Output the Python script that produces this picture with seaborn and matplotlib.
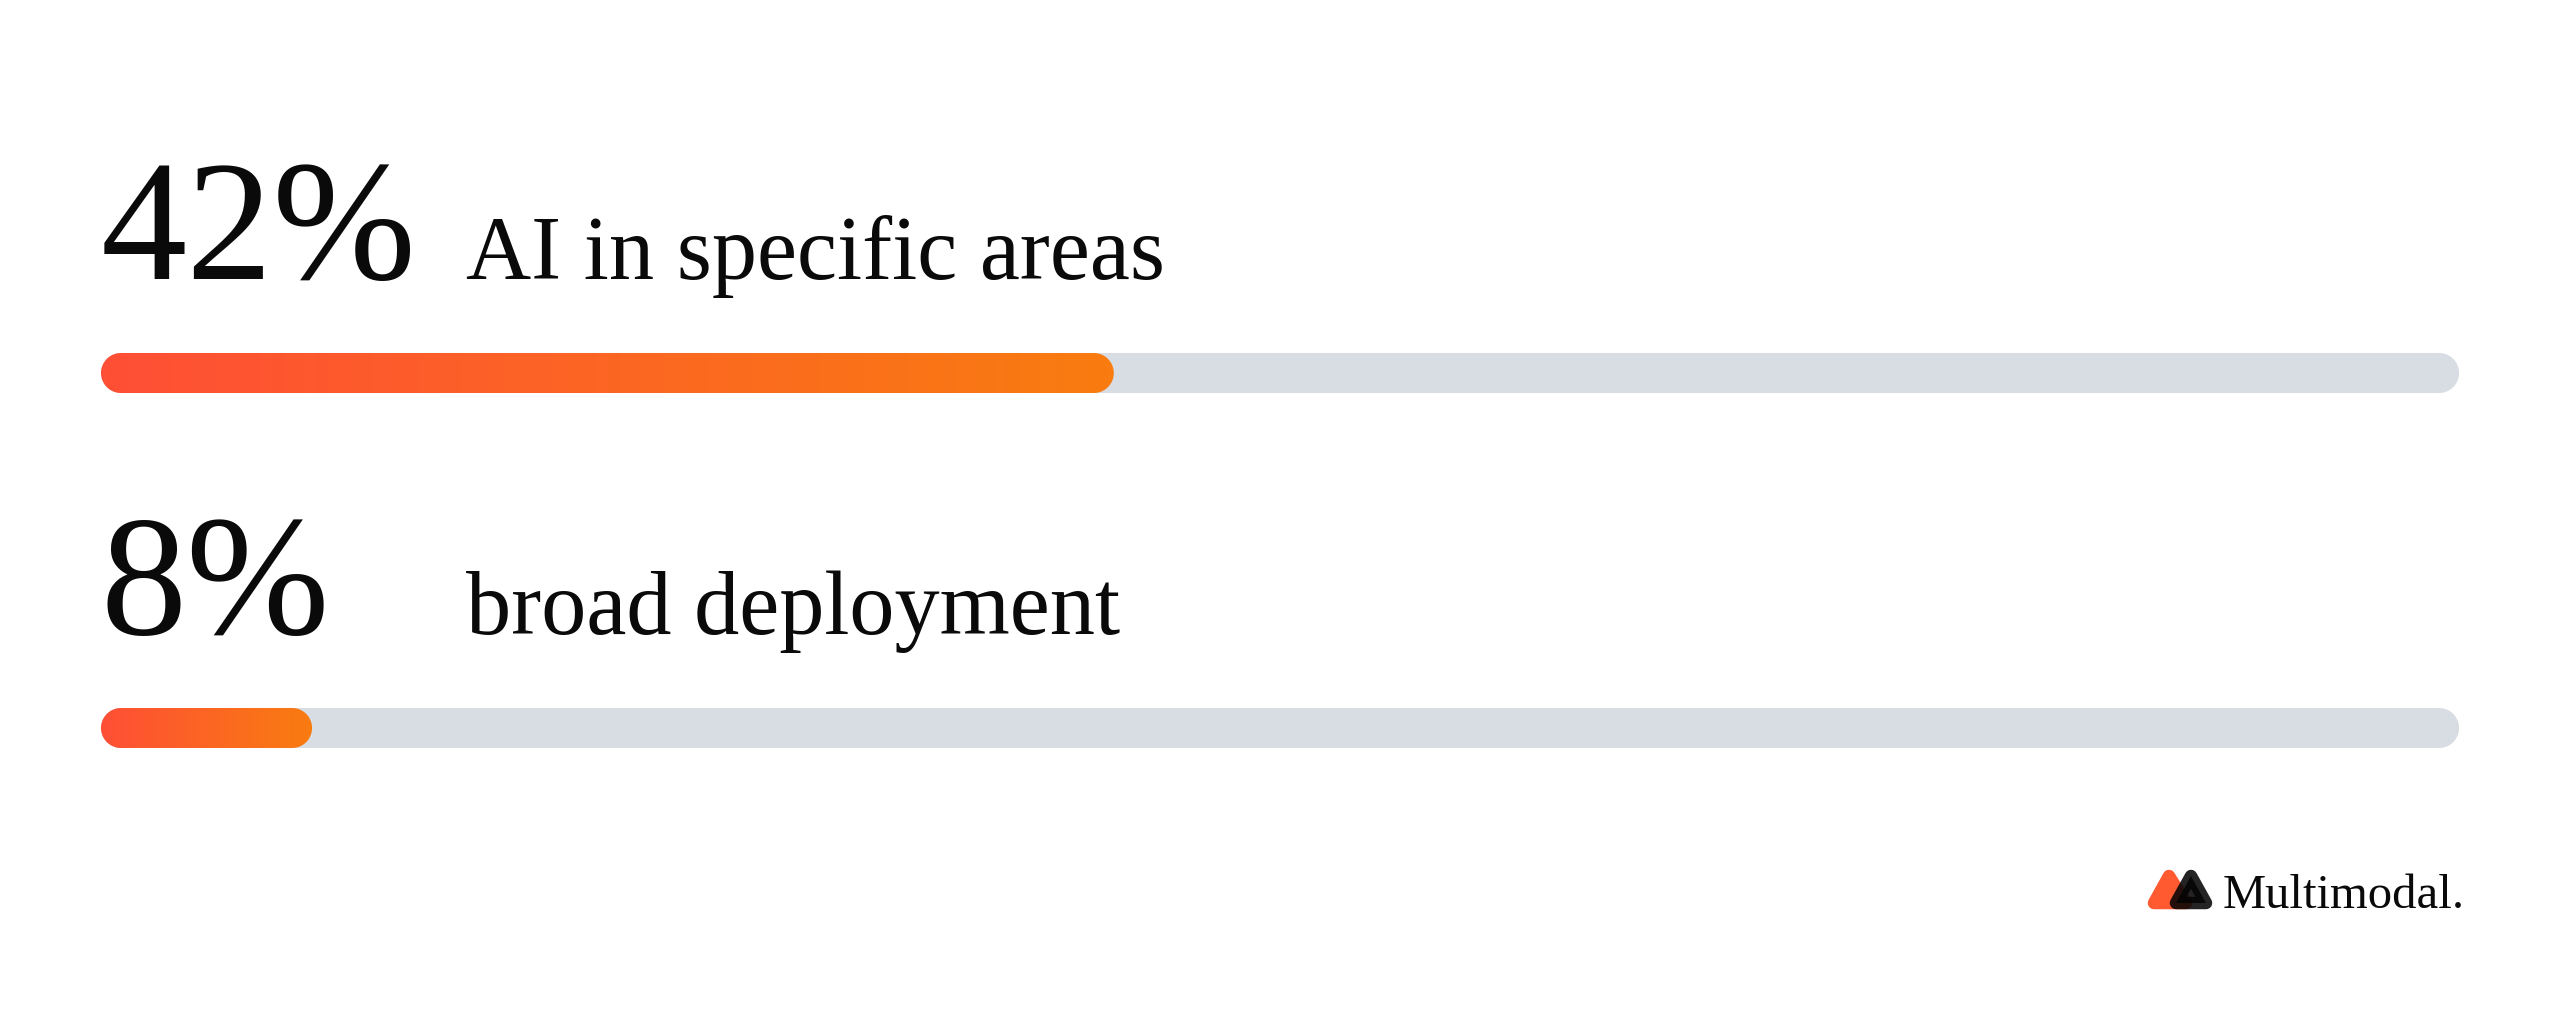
import numpy as np
import matplotlib
matplotlib.use("Agg")
import matplotlib.pyplot as plt
import seaborn as sns
from matplotlib.patches import Polygon
from matplotlib.colors import LinearSegmentedColormap

# data
labels = ["AI in specific areas", "broad deployment"]
values = [42, 8]
totals = [100, 100]
value_text = ["42%", "8%"]

TRACK = "#D8DDE4"
GRAD = LinearSegmentedColormap.from_list("bar", ["#FF4F36", "#F97C10"])
BAR_H = 0.1127
CAP = 0.95          # rounded end of the filled bar sticks out past the value
LABEL_X = 15.5
TEXT_UP = 0.268

sns.set_theme(style="white")
plt.rcParams["font.family"] = ["Liberation Serif", "DejaVu Serif"]

fig = plt.figure(figsize=(25.6, 10.2), dpi=100, facecolor="white")
ax = fig.add_axes([0, 0, 1, 1])

sns.barplot(x=totals, y=labels, orient="h", color=TRACK, width=BAR_H, ax=ax)
sns.barplot(x=values, y=labels, orient="h", color="#FF5A2A", width=BAR_H, ax=ax)

XLIM = (-4.283, 104.28)
YLIM = (1.8197, -1.0535)
ax.set_xlim(*XLIM)
ax.set_ylim(*YLIM)
ax.set_axis_off()

p0 = ax.transData.transform((0, 0))
p1 = ax.transData.transform((1, 1))
sx, sy = abs(p1[0] - p0[0]), abs(p1[1] - p0[1])


def stadium(x0, x1, yc, hh):
    rx = hh * sy / sx
    t = np.linspace(-np.pi / 2, np.pi / 2, 60)
    right = np.column_stack([x1 - rx + rx * np.cos(t), yc + hh * np.sin(t)])
    left = np.column_stack([x0 + rx - rx * np.cos(t), yc - hh * np.sin(t)])
    return np.vstack([right, left])


bars = list(ax.patches)
n = len(labels)
for i, p in enumerate(bars):
    x0, w = p.get_x(), p.get_width()
    yc = p.get_y() + p.get_height() / 2
    hh = p.get_height() / 2
    p.remove()
    if i < n:
        ax.add_patch(Polygon(stadium(x0, x0 + w, yc, hh), closed=True,
                             facecolor=TRACK, edgecolor="none", zorder=1))
    else:
        x1 = x0 + w + CAP
        poly = Polygon(stadium(x0, x1, yc, hh), closed=True,
                       facecolor="none", edgecolor="none", zorder=2)
        ax.add_patch(poly)
        im = ax.imshow(np.linspace(0, 1, 256)[None, :], cmap=GRAD, aspect="auto",
                       extent=(x0, x1, yc + hh, yc - hh), zorder=2,
                       interpolation="bilinear")
        im.set_clip_path(poly)

for i, (vt, lab) in enumerate(zip(value_text, labels)):
    ax.text(0, i - TEXT_UP, vt, fontsize=124, color="#0a0a0a",
            ha="left", va="baseline")
    ax.text(LABEL_X, i - TEXT_UP, lab, fontsize=65, color="#0a0a0a",
            ha="left", va="baseline")

ax.set_xlim(*XLIM)
ax.set_ylim(*YLIM)

# logo
lax = fig.add_axes([2140 / 2560, 1 - 915 / 1020, 80 / 2560, 50 / 1020])
lax.set_xlim(2140, 2220)
lax.set_ylim(915, 865)
lax.set_axis_off()
orange_tri = [(2169, 877), (2154, 904), (2186, 904)]
black_tri = [(2191, 877), (2176, 904), (2206, 904)]
lax.add_patch(Polygon(orange_tri, closed=True, facecolor="#FF5A30",
                      edgecolor="#FF5A30", lw=9, joinstyle="round"))
lax.add_patch(Polygon(black_tri, closed=True, facecolor="#050505",
                      edgecolor="#050505", lw=9, joinstyle="round", alpha=0.88))
fig.text(2223 / 2560, 1 - 908 / 1020, "Multimodal.", fontsize=35,
         color="#0a0a0a", ha="left", va="baseline")

fig.savefig("out.png", dpi=100, facecolor="white")
